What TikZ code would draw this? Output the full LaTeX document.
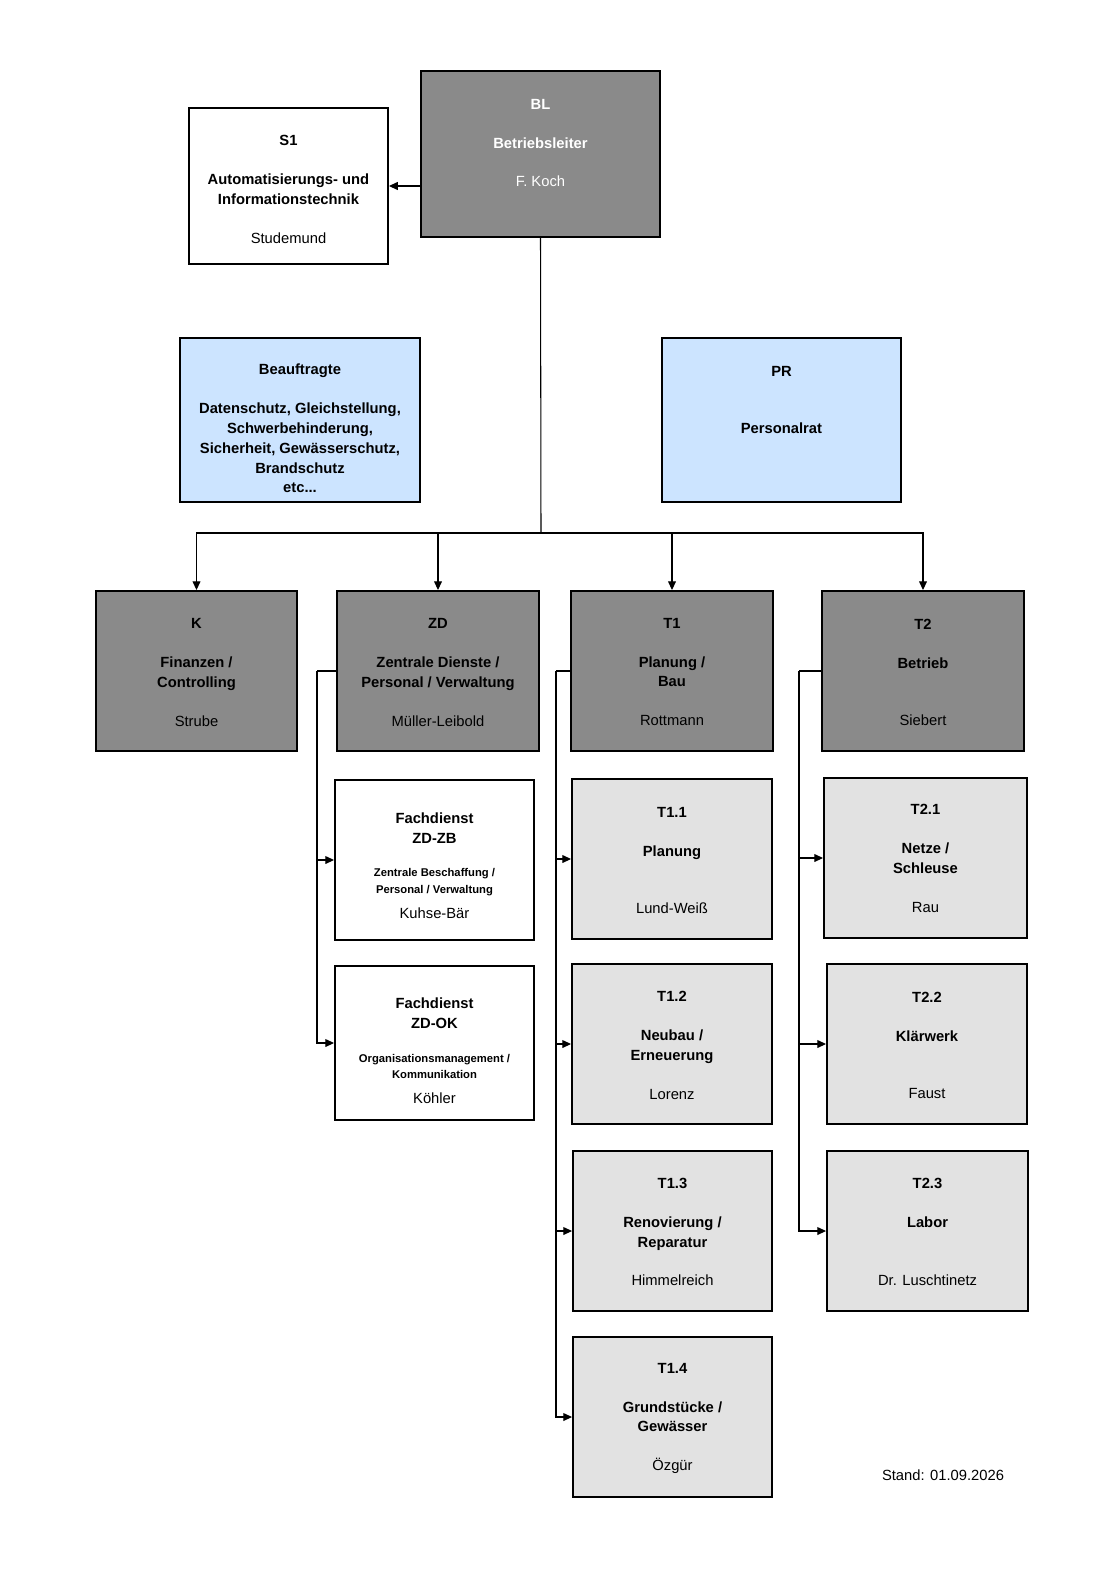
\documentclass[tikz,border=0pt]{standalone}
\usepackage{fontspec}
\setmainfont{Liberation Sans}
\usetikzlibrary{arrows.meta}
\definecolor{leitung}{HTML}{8A8A8A}
\definecolor{sachgebiet}{HTML}{E2E2E2}
\definecolor{gremium}{HTML}{CCE4FF}
\newlength{\gp}\setlength{\gp}{10.8pt}
\newcommand{\kl}[1]{{\fontsize{6.4}{9}\selectfont\bfseries #1}}
% name, x1, y1, x2, y2, style, text centre y, text
\newcommand{\orgunit}[8]{%
  \node[unitbox, #6, minimum width={(#4-#2)*0.02cm}, minimum height={(#5-#3)*0.02cm}]
    (#1) at ({(#2+#4)/2},{(#3+#5)/2}) {};
  \node[unittext] (#1-t) at ({(#2+#4)/2},#7) {#8};}
\begin{document}
\begin{tikzpicture}[x=0.02cm, y=-0.02cm,
  unitbox/.style={draw, line width=1.1pt, inner sep=0pt},
  unittext/.style={align=center, font=\fontsize{8.4}{11.3}\selectfont, inner sep=0pt},
  arr/.style={line width=0.6pt, -{Triangle[length=5pt,width=4.5pt]}},
  link/.style={line width=0.6pt}]
\fill[white] (0,0) rectangle (1110,1569);
\useasboundingbox (0,0) rectangle (1110,1569);

% Leitung
\orgunit{bl}{421}{71}{660}{237}{fill=leitung}{143}{\color{white}\textbf{BL}\\[\gp]\color{white}\textbf{Betriebsleiter}\\[\gp]\color{white}F. Koch}
\orgunit{s1}{189}{108}{388}{264}{fill=white}{189.5}{\textbf{S1}\\[\gp]\textbf{Automatisierungs- und}\\\textbf{Informationstechnik}\\[\gp]Studemund}
\orgunit{beauf}{180}{338}{420}{502}{fill=gremium}{428.5}{\textbf{Beauftragte}\\[\gp]\textbf{Datenschutz, Gleichstellung,}\\\textbf{Schwerbehinderung,}\\\textbf{Sicherheit, Gewässerschutz,}\\\textbf{Brandschutz}\\\textbf{etc...}}
\orgunit{pr}{662}{338}{901}{502}{fill=gremium}{400}{\textbf{PR}\\[2\gp]\textbf{Personalrat}}

% Abteilungen
\orgunit{k}{96}{591}{297}{751}{fill=leitung}{672.5}{\textbf{K}\\[\gp]\textbf{Finanzen /}\\\textbf{Controlling}\\[\gp]Strube}
\orgunit{zd}{337}{591}{539}{751}{fill=leitung}{672.5}{\textbf{ZD}\\[\gp]\textbf{Zentrale Dienste /}\\\textbf{Personal / Verwaltung}\\[\gp]Müller-Leibold}
\orgunit{t1}{571}{591}{773}{751}{fill=leitung}{672}{\textbf{T1}\\[\gp]\textbf{Planung /}\\\textbf{Bau}\\[\gp]Rottmann}
\orgunit{t2}{822}{591}{1024}{751}{fill=leitung}{672.5}{\textbf{T2}\\[\gp]\textbf{Betrieb}\\[2\gp]Siebert}

% Fachdienste
\orgunit{zdzb}{335}{780}{534}{940}{fill=white}{865.5}{\textbf{Fachdienst}\\\textbf{ZD-ZB}\\[8pt]\kl{Zentrale Beschaffung /}\\[-2pt]\kl{Personal / Verwaltung}\\[3pt]Kuhse-Bär}
\orgunit{zdok}{335}{966}{534}{1120}{fill=white}{1051}{\textbf{Fachdienst}\\\textbf{ZD-OK}\\[8pt]\kl{Organisationsmanagement /}\\[-2pt]\kl{Kommunikation}\\[3pt]Köhler}

% Sachgebiete T1
\orgunit{t11}{572}{779}{772}{939}{fill=sachgebiet}{860.5}{\textbf{T1.1}\\[\gp]\textbf{Planung}\\[2\gp]Lund-Weiß}
\orgunit{t12}{572}{964}{772}{1124}{fill=sachgebiet}{1045.5}{\textbf{T1.2}\\[\gp]\textbf{Neubau /}\\\textbf{Erneuerung}\\[\gp]Lorenz}
\orgunit{t13}{573}{1151}{772}{1311}{fill=sachgebiet}{1232}{\textbf{T1.3}\\[\gp]\textbf{Renovierung /}\\\textbf{Reparatur}\\[\gp]Himmelreich}
\orgunit{t14}{573}{1337}{772}{1497}{fill=sachgebiet}{1418.5}{\textbf{T1.4}\\[\gp]\textbf{Grundstücke /}\\\textbf{Gewässer}\\[\gp]Özgür}

% Sachgebiete T2
\orgunit{t21}{824}{778}{1027}{938}{fill=sachgebiet}{858.5}{\textbf{T2.1}\\[\gp]\textbf{Netze /}\\\textbf{Schleuse}\\[\gp]Rau}
\orgunit{t22}{827}{964}{1027}{1124}{fill=sachgebiet}{1045.5}{\textbf{T2.2}\\[\gp]\textbf{Klärwerk}\\[2\gp]Faust}
\orgunit{t23}{827}{1151}{1028}{1311}{fill=sachgebiet}{1232}{\textbf{T2.3}\\[\gp]\textbf{Labor}\\[2\gp]Dr. Luschtinetz}

\node[unittext, font=\fontsize{8.4}{10}\selectfont] (stand) at (943,1475) {Stand: 01.09.2026};

% Verbindungen
\coordinate (hub) at (541,533);
\draw[link] (bl.south) -- (hub);
\foreach \n in {k,zd,t1,t2} \draw[arr] (hub) -| (\n.north);
\draw[arr] (s1.east -| bl.west) -- (s1.east);

\coordinate (zdbus) at (317,671);
\draw[link] (zd.west) -- (zdbus);
\foreach \n in {zdzb,zdok} \draw[arr] (zdbus) |- (\n.west);

\coordinate (t1bus) at (556,671);
\draw[link] (t1.west) -- (t1bus);
\foreach \n in {t11,t12,t13,t14} \draw[arr] (t1bus) |- (\n.west);

\coordinate (t2bus) at (799,671);
\draw[link] (t2.west) -- (t2bus);
\foreach \n in {t21,t22,t23} \draw[arr] (t2bus) |- (\n.west);
\end{tikzpicture}
\end{document}
